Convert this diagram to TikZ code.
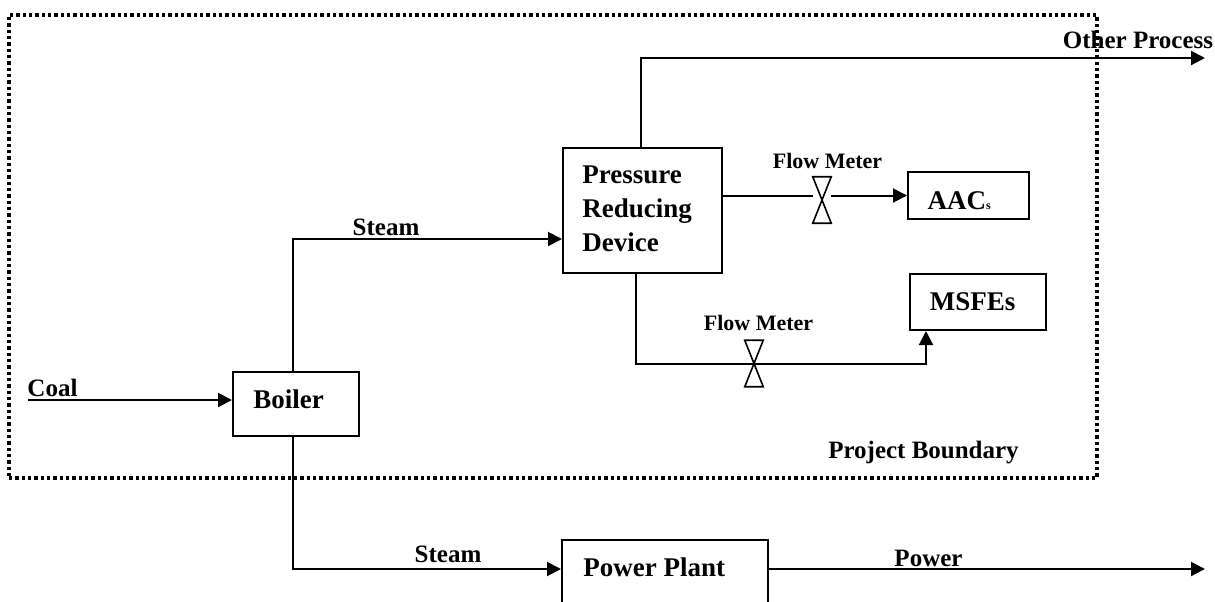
\documentclass[tikz,border=0pt]{standalone}
\usepackage{fontspec}
\setmainfont{Liberation Serif}
\usetikzlibrary{arrows.meta}
\newcommand{\boxtxt}[3]{\makebox[0pt][l]{\hspace*{#1}\makebox[0pt]{\raisebox{#2}[0pt][0pt]{#3}}}}
\tikzset{
  x=0.75pt,y=-0.75pt,
  line width=1.5pt,
  unit box/.style={draw,inner sep=0pt,line width=1.5pt,font=\fontsize{20.25}{25.5}\selectfont\bfseries},
  lbl/.style={inner sep=0pt,font=\fontsize{18.75}{22}\selectfont\bfseries,anchor=base},
  fm/.style={inner sep=0pt,font=\fontsize{16.5}{20}\selectfont\bfseries,anchor=base},
  meter/.style={minimum width=13.5pt,minimum height=34.5pt,inner sep=0pt},
  flow/.style={-{Triangle[length=10.5pt,width=10.5pt]},line width=1.5pt},
  pipe/.style={line width=1.5pt},
  boundary/.style={draw,line width=3pt,dash pattern=on 2.5pt off 2.25pt,inner sep=0pt}
}
\begin{document}
\begin{tikzpicture}
\useasboundingbox (0,0) rectangle (1215,601);
\clip (0,0) rectangle (1215,601);
% boundary
\node[boundary,minimum width=816pt,minimum height=347.25pt] (bound) at (553,246.5) {};
% units
\node[unit box,minimum width=94.5pt,minimum height=48pt] (boiler) at (296,404)
  {\boxtxt{-5.6pt}{-3pt}{Boiler}};
\node[unit box,minimum width=119.25pt,minimum height=93.75pt] (prd) at (642.5,210.5)
  {\makebox[0pt]{\hspace*{-8pt}\begin{tabular}{@{}l@{}}Pressure\\Reducing\\Device\end{tabular}}};
\node[unit box,minimum width=90.75pt,minimum height=35.25pt] (aac) at (968.5,195.5)
  {\boxtxt{-7pt}{-10.6pt}{AAC\fontsize{9}{10}\selectfont s}};
\node[unit box,minimum width=102pt,minimum height=42pt] (msfe) at (978,302)
  {\boxtxt{-4pt}{-6pt}{MSFEs}};
\node[unit box,minimum width=154.5pt,minimum height=60pt] (plant) at (665,580)
  {\boxtxt{-8pt}{3pt}{Power Plant}};
% meters
\node[meter] (fm1) at (822,200) {};
\node[meter] (fm2) at (754,363.5) {};
\draw[line width=1.2pt] (fm1.north west) -- (fm1.north east) -- (fm1.south west) -- (fm1.south east) -- cycle;
\draw[line width=1.2pt] (fm2.north west) -- (fm2.north east) -- (fm2.south west) -- (fm2.south east) -- cycle;
% free ends
\coordinate (coalin) at (28,400);
\coordinate (otherout) at (1205,58);
\coordinate (powerout) at (1205,569);
% connectors
\draw[flow] (coalin) -- (boiler.west |- coalin);
\draw[flow] (293,0 |- boiler.north) -- (293,239) -- (prd.west |- 0,239);
\draw[flow] (293,0 |- boiler.south) -- (293,569) -- (plant.west |- 0,569);
\draw[flow] (plant.east |- powerout) -- (powerout);
\draw[flow] (641,0 |- prd.north) -- (641,58) -- (otherout);
\draw[pipe] (prd.east |- aac.west) -- (fm1.west |- aac.west);
\draw[flow] (fm1.east |- aac.west) -- (aac.west);
\draw[pipe] (636,0 |- prd.south) -- (636,0 |- fm2.center) -- (fm2.center);
\draw[flow] (fm2.center) -- (926,0 |- fm2.center) -- (926,0 |- msfe.south);
% labels
\node[lbl] (coal) at (52.5,396) {Coal};
\node[lbl] (steam1) at (386,235) {Steam};
\node[lbl] (steam2) at (448,562) {Steam};
\node[lbl] (power) at (928.5,566) {Power};
\node[lbl] (other) at (1138,48) {Other Process};
\node[lbl] (pb) at (923.5,458) {Project Boundary};
\node[fm] (fl1) at (827.5,168) {Flow Meter};
\node[fm] (fl2) at (758.5,330) {Flow Meter};
\end{tikzpicture}
\end{document}
